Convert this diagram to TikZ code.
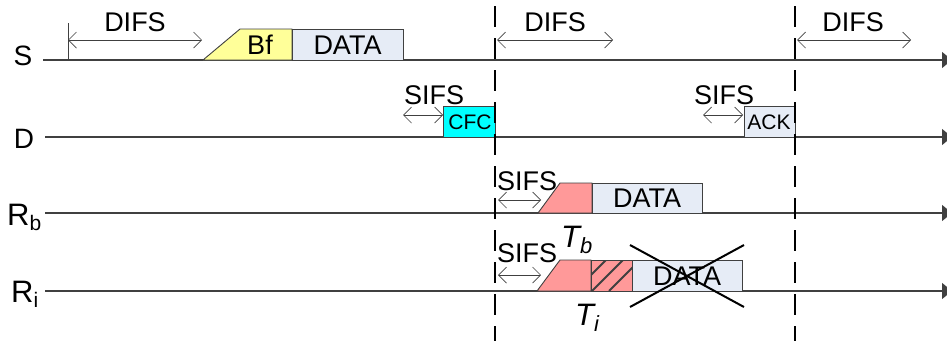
\documentclass[tikz,border=0pt]{standalone}
\usepackage{fontspec}
\setmainfont{Liberation Sans}
\usetikzlibrary{arrows.meta}
\definecolor{dataC}{HTML}{E6ECF6}
\definecolor{bfC}{HTML}{FFFF99}
\definecolor{cfcC}{HTML}{00FFFF}
\definecolor{tC}{HTML}{FF9999}
\definecolor{lineC}{HTML}{404040}
\begin{document}
\begin{tikzpicture}[x=1pt,y=-1pt,
  txt/.style={inner sep=0pt,font=\fontsize{27}{30}\selectfont},
  lbl/.style={inner sep=0pt,font=\fontsize{28}{30}\selectfont},
  rlbl/.style={inner sep=0pt,font=\fontsize{31}{34}\selectfont},
  small/.style={inner sep=0pt,font=\fontsize{21}{24}\selectfont},
  tlab/.style={inner sep=0pt,font=\fontsize{31}{34}\selectfont\itshape,anchor=base west},
  box/.style={draw=lineC,line width=0.9pt,inner sep=0pt},
  tl/.style={draw=lineC,line width=1.1pt,-{Triangle[length=10pt,width=16pt]}},
  span/.style={draw=lineC,line width=0.7pt,{Straight Barb[length=8pt,width=16pt]}-{Straight Barb[length=8pt,width=16pt]}},
  divider/.style={line width=2.6pt,dash pattern=on 21pt off 11pt},
  cross/.style={line width=2pt}]
\useasboundingbox (0,0) rectangle (947,341);

% row labels
\node[lbl] (S) at (23,56) {S};
\node[lbl] (D) at (24,139) {D};
\node[rlbl,anchor=base west] (Rb) at (7,225) {R\raisebox{-0.18em}{\fontsize{21}{24}\selectfont b}};
\node[rlbl,anchor=base west] (Ri) at (11,302) {R\raisebox{-0.18em}{\fontsize{21}{24}\selectfont i}};

% timelines
\coordinate (s0) at (43,60);  \coordinate (s1) at (952,60);
\coordinate (d0) at (45,137); \coordinate (d1) at (952,137);
\coordinate (b0) at (45,213); \coordinate (b1) at (952,213);
\coordinate (i0) at (45,291); \coordinate (i1) at (952,291);
\draw[tl] (s0) -- (s1);
\draw[tl] (d0) -- (d1);
\draw[tl] (b0) -- (b1);
\draw[tl] (i0) -- (i1);

% S row
\draw[fill=bfC,draw=lineC,line width=0.9pt] (203,60) -- (240,29) -- (292,29) -- (292,60) -- cycle;
\node[txt] (bf) at (260,45) {Bf};
\node[box,fill=dataC,minimum width=111pt,minimum height=31pt] (sdata) at (347.5,44.5) {};
\node[txt] (sdatat) at (347.5,45) {DATA};

% D row
\node[box,fill=cfcC,minimum width=52pt,minimum height=31pt] (cfc) at (469,121.5) {};
\node[small] (cfct) at (470,122) {CFC};
\node[box,fill=dataC,minimum width=51pt,minimum height=31pt] (ack) at (769.5,121.5) {};
\node[small] (ackt) at (769,122) {ACK};

% Rb row
\draw[fill=tC,draw=lineC,line width=0.9pt] (538,213) -- (560,183) -- (592,183) -- (592,213) -- cycle;
\node[box,fill=dataC,minimum width=110pt,minimum height=30pt] (bdata) at (647,198) {};
\node[txt] (bdatat) at (647,198.5) {DATA};
\node[tlab] (Tb) at (561,247) {T\raisebox{-0.2em}{\fontsize{22}{24}\selectfont b}};

% Ri row
\draw[fill=tC,draw=lineC,line width=0.9pt] (537,291) -- (560,260) -- (591,260) -- (591,291) -- cycle;
\node[box,fill=tC,minimum width=41pt,minimum height=31pt] (hatch) at (611.5,275.5) {};
\begin{scope}
  \clip (591,260) rectangle (632,291);
  \foreach \c in {-16,1,18} {
    \draw[line width=2pt,black!75] (591+\c,291) -- (591+\c+31,260);
  }
\end{scope}
\draw[draw=lineC,line width=0.9pt] (591,260) rectangle (632,291);
\node[box,fill=dataC,minimum width=110pt,minimum height=31pt] (idata) at (687,275.5) {};
\node[txt] (idatat) at (687,276) {DATA};
\coordinate (x1) at (630,245); \coordinate (x2) at (744,307);
\coordinate (x3) at (630,307); \coordinate (x4) at (744,245);
\draw[cross] (x1) -- (x2);
\draw[cross] (x3) -- (x4);
\node[tlab] (Ti) at (575,325) {T\raisebox{-0.2em}{\fontsize{22}{24}\selectfont i}};

% dividers
\coordinate (v1t) at (495,6);  \coordinate (v1b) at (495,341);
\coordinate (v2t) at (795,6);  \coordinate (v2b) at (795,341);
\draw[divider] (v1t) -- (v1b);
\draw[divider] (v2t) -- (v2b);

% DIFS spans
\coordinate (tk0) at (68,23); \coordinate (tk1) at (68,60);
\draw[draw=lineC,line width=0.9pt] (tk0) -- (tk1);
\coordinate (a1) at (68,40); \coordinate (a2) at (202,40);
\draw[span] (a1) -- (a2);
\node[txt] (difs1) at (135,22) {DIFS};
\coordinate (a3) at (497,40); \coordinate (a4) at (613,40);
\draw[span] (a3) -- (a4);
\node[txt] (difs2) at (555,22) {DIFS};
\coordinate (a5) at (797,40); \coordinate (a6) at (911,40);
\draw[span] (a5) -- (a6);
\node[txt] (difs3) at (853,22) {DIFS};

% SIFS spans
\coordinate (b1a) at (403,115); \coordinate (b1b) at (443,115);
\draw[span] (b1a) -- (b1b);
\node[txt] (sifs1) at (434,95) {SIFS};
\coordinate (b2a) at (703,115); \coordinate (b2b) at (743,115);
\draw[span] (b2a) -- (b2b);
\node[txt] (sifs2) at (724,95) {SIFS};
\coordinate (b3a) at (498,200); \coordinate (b3b) at (541,200);
\draw[span] (b3a) -- (b3b);
\node[txt] (sifs3) at (527,181) {SIFS};
\coordinate (b4a) at (498,275); \coordinate (b4b) at (541,275);
\draw[span] (b4a) -- (b4b);
\node[txt] (sifs4) at (527,253) {SIFS};
\end{tikzpicture}
\end{document}
